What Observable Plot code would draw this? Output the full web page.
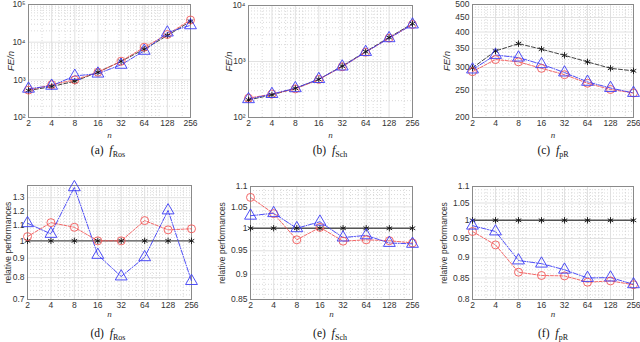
<!DOCTYPE html>
<html>
<head>
<meta charset="utf-8">
<script src="https://cdn.jsdelivr.net/npm/d3@7"></script>
<script src="https://cdn.jsdelivr.net/npm/@observablehq/plot@0.6"></script>
<style>
  html, body { margin: 0; padding: 0; background: #fff; }
  #root { position: relative; width: 640px; height: 342px; overflow: hidden; font-family: "Liberation Sans", Arial, sans-serif; }
  .cap { position: absolute; font-family: "Liberation Serif", "DejaVu Serif", serif; font-size: 11.5px; color: #111; transform: translateX(-50%); white-space: nowrap; }
  .cap i { font-size: 12px; }
  .cap sub { font-size: 8px; vertical-align: -3px; }
</style>
</head>
<body>
<div id="root"></div>
<script>
// ---- data ----
const n = [2, 4, 8, 16, 32, 64, 128, 256];

// (a) f_Ros  FE/n
const rosRef  = [520, 665, 918, 1590, 3100, 6500, 15000, 35700];
const rosRed  = [534, 743, 997, 1590, 3100, 7350, 16000, 38800];
const rosBlue = [579, 694, 1271, 1460, 2500, 5880, 18000, 28000];
// (b) f_Sch  FE/n
const schRef  = [206, 253, 333, 478, 829, 1500, 2690, 4740];
const schRed  = [221, 262, 324, 479, 805, 1461, 2615, 4584];
const schBlue = [212, 262, 333, 485, 812, 1476, 2601, 4574];
// (c) f_pR  FE/n
const prRef  = [299, 343, 364, 348, 331, 314, 298, 292];
const prRed  = [290, 320, 314, 298, 283, 264, 251, 244];
const prBlue = [295, 332, 325, 308, 288, 267, 254, 244];

// relative performances
const relRef     = [1, 1, 1, 1, 1, 1, 1, 1];
const rosRelRed  = [1.026, 1.117, 1.086, 1.0, 1.0, 1.131, 1.069, 1.076];
const rosRelBlue = [1.113, 1.043, 1.385, 0.918, 0.805, 0.905, 1.203, 0.783];
const schRelRed  = [1.073, 1.034, 0.974, 1.002, 0.971, 0.974, 0.972, 0.967];
const schRelBlue = [1.029, 1.035, 1.0, 1.015, 0.979, 0.984, 0.967, 0.965];
const prRelRed   = [0.969, 0.933, 0.864, 0.856, 0.855, 0.840, 0.843, 0.834];
const prRelBlue  = [0.985, 0.969, 0.893, 0.885, 0.870, 0.850, 0.851, 0.835];

// tick labels
const xTickLabels = ["2", "4", "8", "16", "32", "64", "128", "256"];
const ticksA = [100, 1000, 10000, 100000];
const ticksB = [100, 1000, 10000];
const ticksC = [200, 250, 300, 350, 400, 450, 500];
const ticksD = [0.7, 0.8, 0.9, 1, 1.1, 1.2, 1.3];
const ticksE = [0.85, 0.9, 0.95, 1, 1.05, 1.1];
const ticksF = [0.8, 0.85, 0.9, 0.95, 1, 1.05, 1.1];
const xMinor = [3, 5, 6, 7, 9, 10, 20, 30, 40, 50, 60, 70, 80, 90, 100, 200];

const captions = [
  ["(a)", "Ros"], ["(b)", "Sch"], ["(c)", "pR"],
  ["(d)", "Ros"], ["(e)", "Sch"], ["(f)", "pR"]
];

// ---- helpers ----
const sup = {"2": "\u00B2", "3": "\u00B3", "4": "\u2074", "5": "\u2075"};
const powFmt = d => "10" + sup[String(Math.round(Math.log10(d)))];
const numFmt = d => String(d);

function logMinor(lo, hi) {
  const out = [];
  for (let e = Math.floor(Math.log10(lo)); e <= Math.ceil(Math.log10(hi)); e++) {
    for (let k = 2; k <= 9; k++) {
      const v = k * Math.pow(10, e);
      if (v > lo && v < hi) out.push(v);
    }
  }
  return out;
}
function stepMinor(lo, hi, step, majors) {
  const out = [];
  const m = Math.round((hi - lo) / step);
  for (let i = 1; i < m; i++) {
    const v = +(lo + i * step).toFixed(4);
    if (!majors.some(t => Math.abs(t - v) < 1e-6)) out.push(v);
  }
  return out;
}

const RED = "#f25757", BLUE = "#3b3bf5", BLACK = "#111";

function panel(o) {
  const rows = arr => n.map((d, i) => ({n: d, v: arr[i]}));
  const R = rows(o.ref), Rd = rows(o.red), B = rows(o.blue);
  const xt = n.map((d, i) => ({n: d, label: xTickLabels[i]}));
  const yt = o.yTicks.map(d => ({v: d, label: o.yFmt(d)}));
  const marks = [
    Plot.ruleX(xMinor, {x: d => d, stroke: "#d0d0d0", strokeDasharray: "1,2", strokeWidth: 0.8}),
    Plot.ruleY(o.yMinor, {y: d => d, stroke: "#d0d0d0", strokeDasharray: "1,2", strokeWidth: 0.8}),
    Plot.ruleX(n, {x: d => d, stroke: "#dedede", strokeWidth: 0.9}),
    Plot.ruleY(o.yTicks, {y: d => d, stroke: "#dedede", strokeWidth: 0.9}),
    o.rel ? Plot.ruleY([1], {y: d => d, stroke: "#555", strokeWidth: 1.4}) : null,
    Plot.frame({stroke: "#8a8a8a", strokeWidth: 1}),
    o.rel ? null : Plot.line(R, {x: "n", y: "v", stroke: BLACK, strokeWidth: 0.8, strokeDasharray: "4,2"}),
    Plot.line(Rd, {x: "n", y: "v", stroke: RED, strokeWidth: 0.9, strokeDasharray: "3,1.5"}),
    Plot.line(B, {x: "n", y: "v", stroke: BLUE, strokeWidth: 0.9, strokeDasharray: "5,1.5,1,1.5"}),
    Plot.dot(R, {x: "n", y: "v", symbol: "asterisk", r: 3.0, stroke: BLACK, strokeWidth: 0.9}),
    Plot.dot(Rd, {x: "n", y: "v", symbol: "circle", r: 4.0, stroke: RED, fill: "none", strokeWidth: 0.9}),
    Plot.dot(B, {x: "n", y: "v", symbol: "triangle", r: 4.4, stroke: BLUE, fill: "none", strokeWidth: 0.9}),
    Plot.text(xt, {x: "n", text: "label", frameAnchor: "bottom", dy: 8, fontSize: 8.5, fill: "#333"}),
    Plot.text(yt, {y: "v", text: "label", frameAnchor: "left", textAnchor: "end", dx: -3, fontSize: 8.5, fill: "#333"}),
    Plot.text([o.ylabel], {text: d => d, frameAnchor: "left", textAnchor: "middle", rotate: -90, dx: o.ylabelDx, fontSize: o.rel ? 8.5 : 9.5, fontStyle: o.rel ? "normal" : "italic", fill: "#333"}),
    Plot.text(["n"], {text: d => d, frameAnchor: "bottom", dy: o.nDy, fontSize: 9, fontStyle: "italic", fill: "#333", fontFamily: "Liberation Serif, serif"})
  ];
  const svg = Plot.plot({
    width: o.w, height: o.h,
    marginLeft: o.ml, marginRight: o.mr, marginTop: o.mt, marginBottom: o.mb,
    style: {fontFamily: "Liberation Sans, Arial, sans-serif", color: "#333", background: "transparent", overflow: "visible"},
    x: {type: "log", base: 2, domain: [2, 256], axis: null},
    y: {type: "log", domain: o.yDomain, axis: null},
    marks
  });
  svg.style.position = "absolute";
  svg.style.left = o.left + "px";
  svg.style.top = o.top + "px";
  svg.style.overflow = "visible";
  return svg;
}

const root = document.getElementById("root");
const panels = [
  {left: 0,   top: 0, w: 215, h: 145, ml: 28, mr: 25, mt: 4, mb: 28, yDomain: [100, 100000], yTicks: ticksA, yFmt: powFmt, yMinor: logMinor(100, 100000), ref: rosRef, red: rosRed, blue: rosBlue, ylabel: "FE/n", ylabelDx: -18, nDy: 20},
  {left: 210, top: 0, w: 215, h: 145, ml: 38, mr: 13, mt: 5, mb: 28, yDomain: [100, 10000], yTicks: ticksB, yFmt: powFmt, yMinor: logMinor(100, 10000), ref: schRef, red: schRed, blue: schBlue, ylabel: "FE/n", ylabelDx: -20, nDy: 20},
  {left: 425, top: 0, w: 215, h: 145, ml: 47, mr: 7, mt: 4, mb: 28, yDomain: [200, 500], yTicks: ticksC, yFmt: numFmt, yMinor: stepMinor(200, 500, 10, ticksC), ref: prRef, red: prRed, blue: prBlue, ylabel: "FE/n", ylabelDx: -26, nDy: 20},
  {left: 0,   top: 180, w: 215, h: 142, ml: 27, mr: 24, mt: 5, mb: 23, yDomain: [0.7, 1.4], yTicks: ticksD, yFmt: numFmt, yMinor: stepMinor(0.7, 1.4, 0.02, ticksD), ref: relRef, red: rosRelRed, blue: rosRelBlue, ylabel: "relative performances", ylabelDx: -19, nDy: 17, rel: true},
  {left: 210, top: 180, w: 215, h: 142, ml: 40, mr: 13, mt: 6, mb: 23, yDomain: [0.85, 1.1], yTicks: ticksE, yFmt: numFmt, yMinor: stepMinor(0.85, 1.1, 0.01, ticksE), ref: relRef, red: schRelRed, blue: schRelBlue, ylabel: "relative performances", ylabelDx: -28, nDy: 17, rel: true},
  {left: 425, top: 180, w: 215, h: 142, ml: 47, mr: 7, mt: 6, mb: 23, yDomain: [0.8, 1.1], yTicks: ticksF, yFmt: numFmt, yMinor: stepMinor(0.8, 1.1, 0.01, ticksF), ref: relRef, red: prRelRed, blue: prRelBlue, ylabel: "relative performances", ylabelDx: -28, nDy: 17, rel: true}
];
panels.forEach(p => root.appendChild(panel(p)));

const capPos = [[108, 143], [330, 143], [553, 143], [108, 326], [330, 326], [553, 326]];
captions.forEach((c, i) => {
  const d = document.createElement("div");
  d.className = "cap";
  d.style.left = capPos[i][0] + "px";
  d.style.top = capPos[i][1] + "px";
  d.innerHTML = c[0] + "&nbsp;&nbsp;<i>f</i><sub>" + c[1] + "</sub>";
  root.appendChild(d);
});
</script>
</body>
</html>
